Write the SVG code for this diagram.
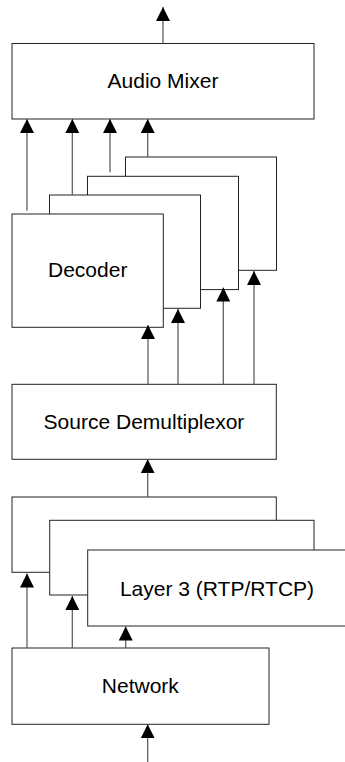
<svg xmlns="http://www.w3.org/2000/svg" width="345" height="762" viewBox="0 0 345 762">
  <style>
    .box { fill: #ffffff; stroke: #222222; stroke-width: 1; }
    .lbl { font-family: "Liberation Sans", Arial, sans-serif; font-size: 21px; fill: #000000; text-anchor: middle; }
    .conn line { stroke: #555555; stroke-width: 1.2; fill: none; marker-end: url(#arrow); }
  </style>
  <defs>
    <marker id="arrow" markerUnits="userSpaceOnUse" markerWidth="14" markerHeight="14" viewBox="0 0 14 14" refX="14" refY="7" orient="auto">
      <path d="M0,0 L14,7 L0,14 z" fill="#000000"/>
    </marker>
  </defs>

  <rect width="345" height="762" fill="#ffffff"/>

  <g id="audio-mixer">
    <rect class="box" x="12" y="43.5" width="302" height="75.5"/>
    <text class="lbl" x="163" y="88.3">Audio Mixer</text>
  </g>

  <g id="decoder-4">
    <rect class="box" x="125.5" y="157" width="151" height="113.3"/>
  </g>
  <g id="decoder-3">
    <rect class="box" x="87.5" y="176.3" width="151" height="113.3"/>
  </g>
  <g id="decoder-2">
    <rect class="box" x="49.5" y="195" width="151" height="113.3"/>
  </g>
  <g id="decoder-1">
    <rect class="box" x="12" y="214" width="151.3" height="113.3"/>
    <text class="lbl" x="87.7" y="277">Decoder</text>
  </g>

  <g id="source-demultiplexor">
    <rect class="box" x="12" y="384.3" width="264.3" height="75"/>
    <text class="lbl" x="144" y="429">Source Demultiplexor</text>
  </g>

  <g id="layer3-a">
    <rect class="box" x="12" y="497" width="264.3" height="75.3"/>
  </g>
  <g id="layer3-b">
    <rect class="box" x="49.7" y="520.3" width="264.3" height="74.7"/>
  </g>
  <g id="layer3-c">
    <rect class="box" x="87.7" y="550" width="264.3" height="76"/>
    <text class="lbl" x="217" y="596">Layer 3 (RTP/RTCP)</text>
  </g>

  <g id="network">
    <rect class="box" x="12" y="648" width="257" height="76.3"/>
    <text class="lbl" x="140.3" y="693">Network</text>
  </g>

  <g id="connectors" class="conn">
    <!-- mixer output -->
    <line x1="163" y1="43.5" x2="163" y2="7"/>
    <!-- decoders to mixer -->
    <line x1="27" y1="210.7" x2="27" y2="119"/>
    <line x1="72.3" y1="195" x2="72.3" y2="119"/>
    <line x1="110" y1="172.3" x2="110" y2="119"/>
    <line x1="147.7" y1="157" x2="147.7" y2="119"/>
    <!-- demultiplexor to decoders -->
    <line x1="148" y1="384.3" x2="148" y2="325"/>
    <line x1="178" y1="384.3" x2="178" y2="309"/>
    <line x1="223.3" y1="384.3" x2="223.3" y2="287.5"/>
    <line x1="254" y1="384.3" x2="254" y2="271"/>
    <!-- layer 3 to demultiplexor -->
    <line x1="147.7" y1="497" x2="147.7" y2="459.3"/>
    <!-- network to layer 3 -->
    <line x1="27" y1="648" x2="27" y2="573.5"/>
    <line x1="72.3" y1="648" x2="72.3" y2="596"/>
    <line x1="125.7" y1="648" x2="125.7" y2="626.5"/>
    <!-- network input -->
    <line x1="147.7" y1="762" x2="147.7" y2="724.3"/>
  </g>
</svg>
